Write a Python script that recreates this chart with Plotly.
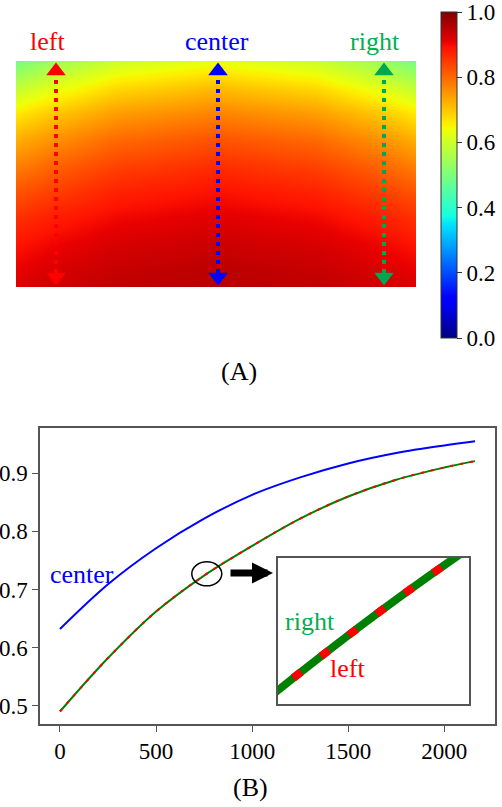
import numpy as np
import plotly.graph_objects as go

# ---------------- data ----------------
pos = [0, 250, 500, 750, 1000, 1250, 1500, 1750, 2000, 2160]
center_vals = [0.632, 0.709, 0.771, 0.822, 0.863, 0.893, 0.917, 0.935, 0.948, 0.955]
left_vals = [0.490, 0.582, 0.662, 0.724, 0.775, 0.822, 0.860, 0.889, 0.910, 0.921]
right_vals = [0.490, 0.582, 0.662, 0.724, 0.775, 0.822, 0.860, 0.889, 0.910, 0.921]

# heatmap (A): columns across the width (fraction), rows = pos (top -> bottom)
hm_cols = [0.0, 0.1, 0.25, 0.5, 0.75, 0.9, 1.0]
hm_z = [
    [0.490, 0.541, 0.597, 0.632, 0.597, 0.541, 0.490],
    [0.582, 0.626, 0.677, 0.709, 0.677, 0.626, 0.582],
    [0.662, 0.700, 0.743, 0.771, 0.743, 0.700, 0.662],
    [0.724, 0.757, 0.797, 0.822, 0.797, 0.757, 0.724],
    [0.775, 0.807, 0.841, 0.863, 0.841, 0.807, 0.775],
    [0.822, 0.846, 0.875, 0.893, 0.875, 0.846, 0.822],
    [0.860, 0.881, 0.903, 0.917, 0.903, 0.881, 0.860],
    [0.889, 0.906, 0.924, 0.935, 0.924, 0.906, 0.889],
    [0.910, 0.924, 0.939, 0.948, 0.939, 0.924, 0.910],
    [0.921, 0.933, 0.946, 0.955, 0.946, 0.933, 0.921],
]

arrow_names = ["left", "center", "right"]
arrow_x = [0.1, 0.505, 0.92]
arrow_colors = ["#ff0000", "#0000ff", "#00a651"]
arrow_span = [95, 2065]

cbar_ticks = [0.0, 0.2, 0.4, 0.6, 0.8, 1.0]
x_ticks = [0, 500, 1000, 1500, 2000]
y_ticks = [0.5, 0.6, 0.7, 0.8, 0.9]

# ---------------- style helpers ----------------
FONT = "Liberation Serif"
W, H = 502, 807

def px_x(p):
    return p / W

def px_y(p):
    return 1 - p / H

# matplotlib-like jet colorscale
seg = {
    "r": [(0, 0), (0.35, 0), (0.66, 1), (0.89, 1), (1, 0.5)],
    "g": [(0, 0), (0.125, 0), (0.375, 1), (0.64, 1), (0.91, 0), (1, 0)],
    "b": [(0, 0.5), (0.11, 1), (0.34, 1), (0.65, 0), (1, 0)],
}
stops = sorted(set([s[0] for k in seg for s in seg[k]]))
jet = []
for s in stops:
    rgb = []
    for k in "rgb":
        xs = [p[0] for p in seg[k]]
        vs = [p[1] for p in seg[k]]
        rgb.append(int(round(255 * np.interp(s, xs, vs))))
    jet.append([s, "rgb(%d,%d,%d)" % tuple(rgb)])

fig = go.Figure()

# ---- (A) heatmap ----
fig.add_trace(go.Heatmap(
    x=hm_cols, y=pos, z=hm_z, zmin=0, zmax=1, zsmooth="best",
    colorscale=jet, xaxis="x", yaxis="y",
    colorbar=dict(
        x=px_x(441), xanchor="left", xpad=0,
        y=px_y(175), yanchor="middle", ypad=0,
        len=326 / H, lenmode="fraction", thickness=16, thicknessmode="pixels",
        outlinewidth=1, outlinecolor="#333",
        tickvals=cbar_ticks, tickformat=".1f", ticks="outside", ticklen=5,
        tickwidth=1, tickcolor="#333",
        tickfont=dict(family=FONT, size=23, color="black"),
    ),
    showscale=True, hoverinfo="skip",
))

for name, ax_, col in zip(arrow_names, arrow_x, arrow_colors):
    fig.add_trace(go.Scatter(
        x=[ax_, ax_], y=arrow_span, mode="lines",
        line=dict(color=col, width=4, dash="4px,5px"),
        xaxis="x", yaxis="y", showlegend=False, hoverinfo="skip",
    ))
    fig.add_trace(go.Scatter(
        x=[ax_, ax_], y=arrow_span, mode="markers",
        marker=dict(symbol=["triangle-up", "triangle-down"], size=17, color=col,
                    line=dict(width=0)),
        xaxis="x", yaxis="y", showlegend=False, hoverinfo="skip",
    ))

# ---- (B) line chart ----
fig.add_trace(go.Scatter(x=pos, y=center_vals, mode="lines", line_shape="spline",
                         line=dict(color="#0000ff", width=2),
                         xaxis="x2", yaxis="y2", showlegend=False))
fig.add_trace(go.Scatter(x=pos, y=right_vals, mode="lines", line_shape="spline",
                         line=dict(color="#008000", width=2),
                         xaxis="x2", yaxis="y2", showlegend=False))
fig.add_trace(go.Scatter(x=pos, y=left_vals, mode="lines", line_shape="spline",
                         line=dict(color="#ff0000", width=2, dash="3px,7px"),
                         xaxis="x2", yaxis="y2", showlegend=False))

# inset
fig.add_trace(go.Scatter(x=pos, y=right_vals, mode="lines", line_shape="spline",
                         line=dict(color="#008000", width=8),
                         xaxis="x3", yaxis="y3", showlegend=False))
fig.add_trace(go.Scatter(x=pos, y=left_vals, mode="lines", line_shape="spline",
                         line=dict(color="#ff0000", width=8, dash="10px,25px"),
                         xaxis="x3", yaxis="y3", showlegend=False))

axis_frame = dict(showline=True, mirror=True, linecolor="#555", linewidth=1.5,
                  showgrid=False, zeroline=False)

fig.update_layout(
    width=W, height=H,
    margin=dict(l=0, r=0, t=0, b=0),
    paper_bgcolor="white", plot_bgcolor="white",
    font=dict(family=FONT, color="black"),
    xaxis=dict(domain=[px_x(16), px_x(416)], range=[0, 1], visible=False, fixedrange=True),
    yaxis=dict(domain=[px_y(287), px_y(61)], range=[2160, 0], visible=False, fixedrange=True),
    xaxis2=dict(domain=[px_x(40), px_x(495)], range=[-104, 2264], anchor="y2",
                tickvals=x_ticks, ticks="outside", ticklen=6, tickcolor="#555",
                tickfont=dict(family=FONT, size=23, color="black"), **axis_frame),
    yaxis2=dict(domain=[px_y(724), px_y(428)], range=[0.4685, 0.978], anchor="x2",
                tickvals=y_ticks, tickformat=".1f", ticks="outside", ticklen=6,
                tickcolor="#555",
                tickfont=dict(family=FONT, size=23, color="black"), **axis_frame),
    xaxis3=dict(domain=[px_x(278), px_x(469)], range=[675, 854], anchor="y3",
                showticklabels=False, ticks="", **axis_frame),
    yaxis3=dict(domain=[px_y(704), px_y(558)], range=[0.7029, 0.7434], anchor="x3",
                showticklabels=False, ticks="", **axis_frame),
)

# labels
def label(text, x, y, color, size=26):
    fig.add_annotation(text=text, x=px_x(x), y=px_y(y), xref="paper", yref="paper",
                       showarrow=False, xanchor="center", yanchor="middle",
                       font=dict(family=FONT, size=size, color=color))

label("left", 47, 41, "#ff0000")
label("center", 217, 41, "#0000ff")
label("right", 375, 41, "#00b050")
label("(A)", 239, 371, "black")
label("(B)", 250, 787, "black")
label("center", 82, 574, "#0000ff")
label("right", 310, 621, "#00b050")
label("left", 347, 668, "#ff0000")

# circle marking the zoomed region
fig.add_shape(type="circle", xref="x2", yref="y2",
              x0=764 - 78, x1=764 + 78, y0=0.727 - 0.0207, y1=0.727 + 0.0207,
              line=dict(color="black", width=1.5))

# black arrow pointing to inset
fig.add_annotation(x=px_x(273), y=px_y(573), xref="paper", yref="paper",
                   ax=-44, ay=0, axref="pixel", ayref="pixel", text="",
                   showarrow=True, arrowhead=2, arrowwidth=7, arrowsize=0.6,
                   arrowcolor="black")

fig.write_html("out.html", config={"displayModeBar": False})
